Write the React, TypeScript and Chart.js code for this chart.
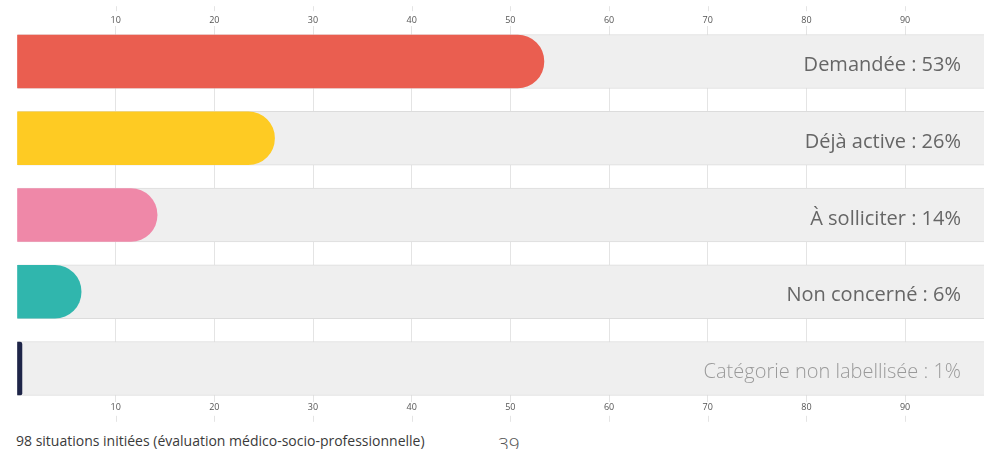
import React, { useEffect, useRef } from "react";
import { Chart, registerables } from "chart.js";

Chart.register(...registerables);

const categories = ["Demandée", "Déjà active", "À solliciter", "Non concerné", "Catégorie non labellisée"];
const barValues = [53.4, 26.1, 14.2, 6.5, 0.5];
const percentLabels = [53, 26, 14, 6, 1];
const totalValue = 98;
const tickValues = [10, 20, 30, 40, 50, 60, 70, 80, 90];
const barColors = ["#EA5E50", "#FECB23", "#EF88A8", "#30B6AD", "#1E2548"];
const footerText = "98 situations initiées (évaluation médico-socio-professionnelle)";
const footerNumber = "39";

const FONT = "'Open Sans', 'DejaVu Sans', sans-serif";

export default function App() {
  const canvasRef = useRef<HTMLCanvasElement | null>(null);

  useEffect(() => {
    const canvas = canvasRef.current;
    if (!canvas) return;

    const labelPlugin = {
      id: "barLabels",
      afterDatasetsDraw(chart: any) {
        const { ctx, chartArea } = chart;
        const meta = chart.getDatasetMeta(0);
        ctx.save();
        ctx.textAlign = "right";
        ctx.textBaseline = "middle";
        meta.data.forEach((el: any, i: number) => {
          const last = i === categories.length - 1;
          ctx.font = `${last ? 300 : 400} 20px ${FONT}`;
          ctx.fillStyle = last ? "#9a9a9a" : "#666666";
          ctx.fillText(`${categories[i]} : ${percentLabels[i]}%`, chartArea.right - 23, el.y + 4);
        });
        ctx.restore();
      },
    };

    // short outer tick marks beyond the tick labels, placed with the x scale
    const outerTicks = {
      id: "outerTicks",
      afterDraw(chart: any) {
        const { ctx } = chart;
        const top = chart.scales.x2;
        const bottom = chart.scales.x;
        ctx.save();
        ctx.strokeStyle = "#e4e4e4";
        ctx.lineWidth = 1;
        tickValues.forEach((v) => {
          const px = Math.round(top.getPixelForValue(v)) + 0.5;
          ctx.beginPath();
          ctx.moveTo(px, top.top - 9);
          ctx.lineTo(px, top.top - 4);
          ctx.stroke();
          const pb = Math.round(bottom.getPixelForValue(v)) + 0.5;
          ctx.beginPath();
          ctx.moveTo(pb, bottom.bottom + 3);
          ctx.lineTo(pb, bottom.bottom + 9);
          ctx.stroke();
        });
        ctx.restore();
      },
    };

    const gridColor = (c: any) => (c.tick && c.tick.value === 0 ? "rgba(0,0,0,0)" : "#e4e4e4");
    const tickCb = (v: any) => (tickValues.includes(Number(v)) ? String(v) : "");

    const labelAxis = (position: string, tl: number) => ({
      type: "linear",
      position,
      min: 0,
      max: totalValue,
      border: { display: false },
      grid: { color: gridColor, tickLength: tl, lineWidth: 1 },
      ticks: {
        stepSize: 10,
        includeBounds: false,
        padding: 0,
        color: "#555",
        font: { family: FONT, size: 9 },
        callback: tickCb,
        maxRotation: 0,
        autoSkip: false,
      },
    });

    const chart = new Chart(canvas, {
      type: "bar",
      data: {
        datasets: [
          {
            data: barValues.map((v, i) => ({ x: v, y: i })),
            backgroundColor: barColors,
            borderWidth: 0,
            borderRadius: 27,
            borderSkipped: "start",
            grouped: false,
            barThickness: 53,
            clip: false,
          } as any,
          {
            data: categories.map((_, i) => ({ x: totalValue, y: i })),
            backgroundColor: "#efefef",
            borderColor: "#dcdcdc",
            borderWidth: { top: 1, bottom: 1, left: 0, right: 0 },
            borderSkipped: false,
            grouped: false,
            barThickness: 54,
            clip: false,
          } as any,
        ],
      },
      options: {
        indexAxis: "y",
        animation: false,
        responsive: true,
        maintainAspectRatio: false,
        layout: { padding: { left: 17, right: 2, top: 15.2, bottom: 17.2 } },
        plugins: { legend: { display: false }, tooltip: { enabled: false }, title: { display: false } },
        scales: {
          y: {
            type: "linear",
            display: false,
            offset: false,
            reverse: true,
            min: -0.358,
            max: 4.358,
          },
          x: labelAxis("bottom", 6),
          x2: labelAxis("top", 8),
        } as any,
      },
      plugins: [labelPlugin, outerTicks],
    } as any);

    return () => chart.destroy();
  }, []);

  return (
    <div style={{ position: "fixed", left: 0, top: 0, width: 986, height: 449, overflow: "hidden", background: "#fff" }}>
      <div style={{ position: "absolute", left: 0, top: 0, width: 986, height: 430 }}>
        <canvas ref={canvasRef} />
      </div>
      <div
        style={{
          position: "absolute",
          left: 16,
          top: 432,
          fontFamily: FONT,
          fontSize: 14,
          color: "#3a3a3a",
          whiteSpace: "nowrap",
          lineHeight: "18px",
        }}
      >
        {footerText}
      </div>
      <div
        style={{
          position: "absolute",
          left: 498,
          top: 432,
          fontFamily: FONT,
          fontSize: 19,
          fontWeight: 300,
          color: "#555",
          lineHeight: "24px",
        }}
      >
        {footerNumber}
      </div>
    </div>
  );
}
